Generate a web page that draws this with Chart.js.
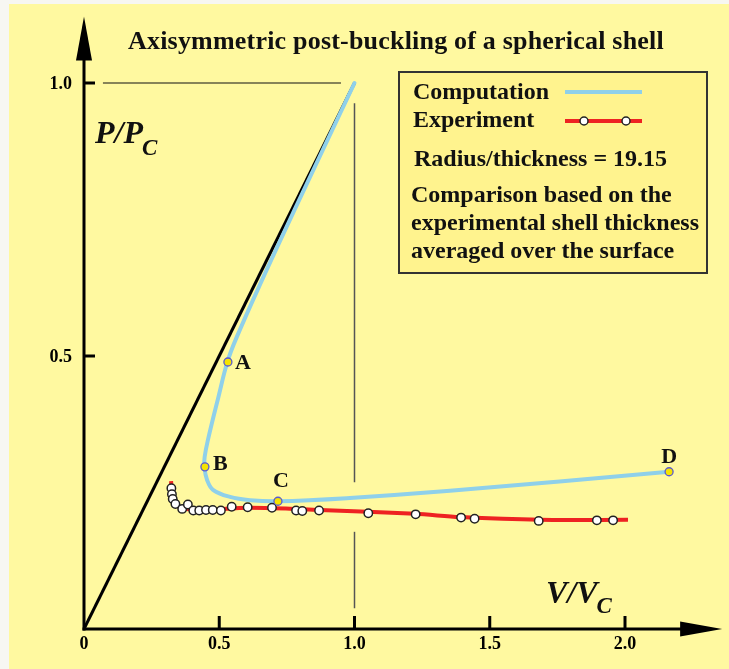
<!DOCTYPE html>
<html>
<head>
<meta charset="utf-8">
<script src="https://cdn.jsdelivr.net/npm/chart.js@4"></script>
<style>
  html, body { margin: 0; padding: 0; background: #f7f7f2; }
  canvas { display: block; }
</style>
</head>
<body>
<canvas id="shell" width="729" height="669"></canvas>
<script>
// Axis ticks
const xTickValues = [0, 0.5, 1.0, 1.5, 2.0];
const xTickLabels = ['0', '0.5', '1.0', '1.5', '2.0'];
const yTickValues = [0.5, 1.0];
const yTickLabels = ['0.5', '1.0'];

// Linear (pre-buckling) response
const linearV = [0, 1.0];
const linearP = [0, 1.0];

// Computed post-buckling path
const compV = [1.0, 0.773, 0.658, 0.565, 0.530, 0.497, 0.458, 0.446, 0.445, 0.455, 0.477, 0.540, 0.614, 0.717, 0.983, 1.353, 2.163];
const compP = [1.0, 0.762, 0.639, 0.535, 0.489, 0.425, 0.346, 0.315, 0.297, 0.273, 0.255, 0.242, 0.236, 0.234, 0.240, 0.253, 0.288];

// Marked stages on the computed path
const stageNames = ['A', 'B', 'C', 'D'];
const stageV = [0.532, 0.447, 0.717, 2.163];
const stageP = [0.489, 0.297, 0.234, 0.288];

// Experimental measurements
const expV = [0.323, 0.325, 0.328, 0.338, 0.363, 0.384, 0.404, 0.426, 0.451, 0.476, 0.506, 0.546, 0.605, 0.695, 0.784, 0.807, 0.869, 1.051, 1.226, 1.394, 1.444, 1.681, 1.896, 1.956];
const expP = [0.258, 0.247, 0.238, 0.229, 0.220, 0.228, 0.217, 0.217, 0.218, 0.218, 0.217, 0.224, 0.223, 0.222, 0.217, 0.216, 0.217, 0.212, 0.210, 0.204, 0.202, 0.198, 0.199, 0.199];

// Smooth curve through the experiment
const fitV = [0.322, 0.325, 0.340, 0.373, 0.429, 0.614, 0.872, 1.224, 1.390, 1.686, 2.011];
const fitP = [0.271, 0.242, 0.227, 0.220, 0.218, 0.222, 0.218, 0.211, 0.205, 0.200, 0.200];

const pts = (xs, ys) => xs.map((x, i) => ({ x, y: ys[i] }));

const PAGE_BG = '#fff9a0';
const BOX_BG = '#fff38e';
const BLUE = '#8fd0ea';
const RED = '#ee2222';
const SERIF = '"Liberation Serif", "Times New Roman", serif';
const font = (px, style = 'bold') => `${style} ${px}px ${SERIF}`;

const decor = {
  id: 'decor',
  beforeDraw(chart) {
    const c = chart.ctx;
    c.save();
    c.fillStyle = '#f7f7f2';
    c.fillRect(0, 0, chart.width, chart.height);
    c.fillStyle = PAGE_BG;
    c.fillRect(9, 4, chart.width - 9, chart.height - 4);
    c.restore();
  },
  beforeDatasetsDraw(chart) {
    const c = chart.ctx, xs = chart.scales.x, ys = chart.scales.y;
    const X = v => xs.getPixelForValue(v), Y = v => ys.getPixelForValue(v);
    const x0 = X(0), y0 = Y(0);
    c.save();

    // reference lines at P/Pc = 1 and V/Vc = 1
    c.strokeStyle = '#111';
    c.lineWidth = 1.2;
    c.beginPath(); c.moveTo(X(0.07), Y(1)); c.lineTo(X(0.95), Y(1)); c.stroke();
    c.strokeStyle = '#555';
    c.lineWidth = 1.5;
    [[0.963, 0.269], [0.178, 0.038]].forEach(([a, b]) => {
      c.beginPath(); c.moveTo(X(1), Y(a)); c.lineTo(X(1), Y(b)); c.stroke();
    });

    // axes with arrow heads
    const top = chart.chartArea.top, right = chart.chartArea.right;
    c.strokeStyle = '#000';
    c.fillStyle = '#000';
    c.lineWidth = 3;
    c.beginPath(); c.moveTo(x0, y0 + 1.5); c.lineTo(x0, top + 25); c.stroke();
    c.beginPath(); c.moveTo(x0 - 1.5, y0); c.lineTo(right - 20, y0); c.stroke();
    c.beginPath();
    c.moveTo(x0, top - 12); c.lineTo(x0 - 8, top + 32); c.lineTo(x0 + 8, top + 32); c.closePath(); c.fill();
    c.beginPath();
    c.moveTo(right + 16, y0); c.lineTo(right - 26, y0 - 7.5); c.lineTo(right - 26, y0 + 7.5); c.closePath(); c.fill();

    // ticks and tick labels
    c.font = font(18);
    c.textBaseline = 'middle';
    c.textAlign = 'right';
    yTickValues.forEach((v, i) => {
      c.beginPath(); c.moveTo(x0, Y(v)); c.lineTo(x0 + 11, Y(v)); c.stroke();
      c.fillText(yTickLabels[i], x0 - 12, Y(v) + 1);
    });
    c.textAlign = 'center';
    c.textBaseline = 'alphabetic';
    xTickValues.forEach((v, i) => {
      if (v !== 0) { c.beginPath(); c.moveTo(X(v), y0); c.lineTo(X(v), y0 - 13); c.stroke(); }
      c.fillText(xTickLabels[i], X(v), y0 + 20);
    });

    // axis titles
    c.textAlign = 'left';
    c.fillStyle = '#111';
    c.font = font(32, 'italic bold');
    c.fillText('P/P', 95, 143);
    let w = c.measureText('P/P').width;
    c.font = font(23, 'italic bold');
    c.fillText('C', 95 + w - 1, 155);
    c.font = font(32, 'italic bold');
    c.fillText('V/V', 546, 603);
    w = c.measureText('V/V').width;
    c.font = font(23, 'italic bold');
    c.fillText('C', 546 + w - 1, 613);

    // chart title
    c.font = font(26);
    c.letterSpacing = '0.2px';
    c.fillText('Axisymmetric post-buckling of a spherical shell', 128, 49);
    c.letterSpacing = '0px';
    c.restore();
  },
  afterDatasetsDraw(chart) {
    const c = chart.ctx, xs = chart.scales.x, ys = chart.scales.y;
    const X = v => xs.getPixelForValue(v), Y = v => ys.getPixelForValue(v);
    c.save();

    // stage letters
    c.fillStyle = '#111';
    c.font = font(22);
    c.textAlign = 'left';
    c.fillText(stageNames[0], X(stageV[0]) + 7, Y(stageP[0]) + 7);
    c.fillText(stageNames[1], X(stageV[1]) + 8, Y(stageP[1]) + 3);
    c.textAlign = 'center';
    c.fillText(stageNames[2], X(stageV[2]) + 3, Y(stageP[2]) - 14);
    c.fillText(stageNames[3], X(stageV[3]), Y(stageP[3]) - 9);

    // legend box
    c.fillStyle = BOX_BG;
    c.fillRect(399, 72, 308, 201);
    c.strokeStyle = '#333';
    c.lineWidth = 2;
    c.strokeRect(399, 72, 308, 201);

    c.fillStyle = '#111';
    c.textAlign = 'left';
    c.font = font(24);
    c.fillText('Computation', 413, 99);
    c.fillText('Experiment', 413, 127);
    c.fillText('Radius/thickness = 19.15', 414, 166);
    c.fillText('Comparison based on the', 411, 202);
    c.fillText('experimental shell thickness', 411, 230);
    c.fillText('averaged over the surface', 411, 258);

    c.lineWidth = 4;
    c.strokeStyle = BLUE;
    c.beginPath(); c.moveTo(565, 92); c.lineTo(642, 92); c.stroke();
    c.strokeStyle = RED;
    c.beginPath(); c.moveTo(565, 121); c.lineTo(642, 121); c.stroke();
    c.fillStyle = '#fff';
    c.strokeStyle = '#222';
    c.lineWidth = 1.5;
    [584, 626].forEach(x => { c.beginPath(); c.arc(x, 121, 4, 0, Math.PI * 2); c.fill(); c.stroke(); });
    c.restore();
  }
};

new Chart(document.getElementById('shell'), {
  type: 'scatter',
  data: {
    datasets: [
      {
        label: 'Stages',
        data: pts(stageV, stageP),
        pointRadius: 4,
        backgroundColor: '#f5e400',
        borderColor: '#5a5ad0',
        borderWidth: 1.3,
        showLine: false,
        order: 0
      },
      {
        label: 'Experiment',
        data: pts(expV, expP),
        pointRadius: 4.2,
        backgroundColor: '#ffffff',
        borderColor: '#222222',
        borderWidth: 1.5,
        showLine: false,
        order: 1
      },
      {
        label: 'Computation',
        data: pts(compV, compP),
        showLine: true,
        borderColor: BLUE,
        borderWidth: 4,
        borderCapStyle: 'round',
        pointRadius: 0,
        tension: 0.4,
        order: 2
      },
      {
        label: 'Experiment fit',
        data: pts(fitV, fitP),
        showLine: true,
        borderColor: RED,
        borderWidth: 4,
        pointRadius: 0,
        tension: 0.3,
        order: 3
      },
      {
        label: 'Linear',
        data: pts(linearV, linearP),
        showLine: true,
        borderColor: '#000000',
        borderWidth: 3,
        pointRadius: 0,
        order: 4
      }
    ]
  },
  options: {
    responsive: false,
    devicePixelRatio: 1,
    animation: false,
    layout: { padding: { left: 84, right: 22.85, top: 28.4, bottom: 40 } },
    scales: {
      x: { type: 'linear', min: 0, max: 2.3, display: false },
      y: { type: 'linear', min: 0, max: 1.1, display: false }
    },
    plugins: {
      legend: { display: false },
      tooltip: { enabled: false }
    }
  },
  plugins: [decor]
});
</script>
</body>
</html>
